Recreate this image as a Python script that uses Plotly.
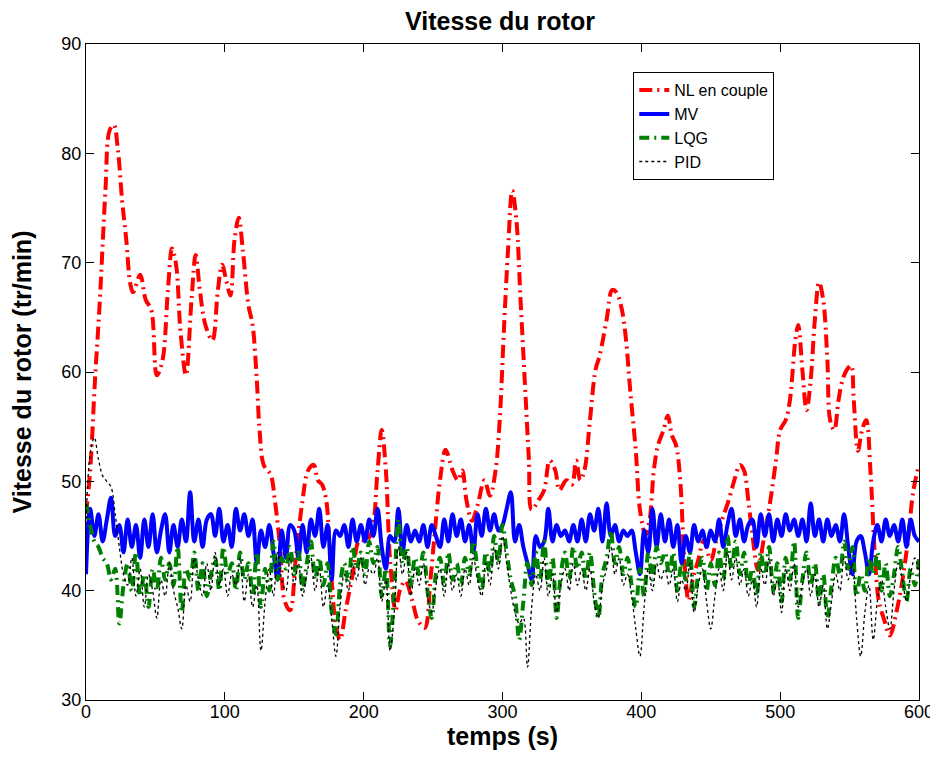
import plotly.graph_objects as go

# NL en couple: smooth-ish trace, sampled at irregular times
NL_T = [0, 3, 6.5, 10, 14, 17, 20, 23, 26, 29, 32, 34, 39, 43, 47, 51, 55, 59, 62, 65,
        68, 72, 76, 79, 82, 86, 91, 95, 98, 101, 104, 107, 110, 113, 117, 120, 123, 125, 128, 133,
        136, 140, 143, 147, 151, 156, 160, 164, 167, 170, 173, 176, 180, 183, 187, 192, 197, 202, 206, 210,
        213, 216, 219, 223, 226, 230, 235, 239, 244, 248, 252, 255, 259, 264, 268, 271, 274, 278, 282, 287,
        291, 295, 298, 301, 304, 307, 310, 313, 316, 319, 321, 326, 330, 334, 338, 341, 346, 350, 353, 356,
        359, 363, 367, 370, 375, 379, 382, 386, 389, 392, 396, 399, 403, 406, 409, 412, 416, 419, 422, 425,
        428, 431, 434, 437, 441, 445, 450, 454, 458, 463, 467, 471, 474, 477, 480, 484, 488, 493, 497, 500,
        504, 507, 511, 513, 516, 519, 522, 525, 528, 531, 534, 536, 539, 542, 545, 548, 551, 553, 556, 559,
        562, 565, 568, 571, 575, 579, 584, 588, 592, 596, 600]
NL_V = [47, 51, 59.3, 66.6, 76.6, 82.1, 82.6, 80.3, 75.7, 72.1, 68, 67.3, 68.9, 66.6, 65.7, 59.7, 61, 67.5, 71.3, 69.7,
        63.8, 59.7, 66.6, 70.7, 67.5, 64.3, 62.9, 67.5, 69.8, 68.4, 67, 72.1, 74.1, 71.1, 66.1, 64.3, 59.3, 54.7, 51.5, 50.6,
        48.3, 43.7, 39.1, 38.2, 42.8, 48.3, 51, 51.5, 50.1, 49.7, 48.3, 42.8, 36.8, 35.5, 38.2, 41.4, 44.6, 44.6, 45.5, 51,
        54.7, 51, 42.8, 38.2, 40, 40.9, 39.1, 37.3, 36.6, 40.9, 46.4, 50.1, 52.9, 51, 50.1, 51, 48.3, 46.4, 47.8, 50.1,
        48.7, 51, 55.6, 63.8, 71.2, 76.6, 73.9, 66.6, 59.3, 52, 47.4, 48.3, 49.2, 51.9, 51, 49.2, 50.1, 49.7, 51.9, 50.1,
        51, 55.6, 60.2, 61.5, 64.8, 67.5, 67.3, 65.7, 62.9, 58.3, 52.8, 47.4, 45.1, 46.5, 51, 53.3, 54.7, 56, 54.2, 53.3,
        50.1, 42.8, 39.1, 41, 42.8, 44.6, 42.8, 44.6, 46.4, 48.3, 50.1, 51.5, 51, 48.3, 45.1, 41.9, 44.6, 48.3, 51.9, 54.7,
        55.6, 57.4, 63, 64.3, 60.2, 56.5, 59.3, 64.8, 68.2, 66.6, 61.1, 55.6, 54.7, 57.4, 59.3, 60.2, 60.6, 57.4, 52.8, 54.7,
        55.6, 51, 43.7, 39.1, 37.3, 35.9, 38.2, 40.9, 44.6, 49.2, 51.5]

# MV, LQG, PID: sampled every 3 s
T = [0, 3, 6, 9, 12, 15, 18, 21, 24, 27, 30, 33, 36, 39, 42, 45, 48, 51, 54, 57,
     60, 63, 66, 69, 72, 75, 78, 81, 84, 87, 90, 93, 96, 99, 102, 105, 108, 111, 114, 117,
     120, 123, 126, 129, 132, 135, 138, 141, 144, 147, 150, 153, 156, 159, 162, 165, 168, 171, 174, 177,
     180, 183, 186, 189, 192, 195, 198, 201, 204, 207, 210, 213, 216, 219, 222, 225, 228, 231, 234, 237,
     240, 243, 246, 249, 252, 255, 258, 261, 264, 267, 270, 273, 276, 279, 282, 285, 288, 291, 294, 297,
     300, 303, 306, 309, 312, 315, 318, 321, 324, 327, 330, 333, 336, 339, 342, 345, 348, 351, 354, 357,
     360, 363, 366, 369, 372, 375, 378, 381, 384, 387, 390, 393, 396, 399, 402, 405, 408, 411, 414, 417,
     420, 423, 426, 429, 432, 435, 438, 441, 444, 447, 450, 453, 456, 459, 462, 465, 468, 471, 474, 477,
     480, 483, 486, 489, 492, 495, 498, 501, 504, 507, 510, 513, 516, 519, 522, 525, 528, 531, 534, 537,
     540, 543, 546, 549, 552, 555, 558, 561, 564, 567, 570, 573, 576, 579, 582, 585, 588, 591, 594, 597, 600]

MV = [41.5, 47.5, 45.0, 47.0, 44.5, 46.5, 48.5, 45.0, 46.0, 43.5,
      46.5, 44.0, 46.0, 43.0, 46.5, 44.0, 47.0, 43.5, 45.5, 47.0,
      43.5, 46.0, 44.0, 46.5, 44.5, 49.0, 44.5, 46.5, 44.0, 46.5,
      47.0, 45.0, 47.5, 44.5, 46.0, 44.0, 47.5, 45.5, 47.0, 45.0,
      46.5, 42.5, 45.5, 44.0, 46.0, 43.5, 41.0, 45.5, 43.0, 46.0,
      45.5, 43.0, 46.0, 43.5, 46.5, 45.0, 47.5, 44.0, 46.0, 41.0,
      45.5, 45.0, 46.0, 44.0, 46.5, 44.5, 46.0, 44.5, 46.5, 45.0,
      47.5, 44.0, 42.0, 45.0, 44.5, 47.5, 43.5, 46.0, 44.5, 45.5,
      44.5, 46.0, 44.0, 46.0, 45.0, 44.0, 46.5, 44.5, 47.0, 45.0,
      46.5, 44.5, 46.0, 43.5, 47.0, 45.0, 47.5, 45.5, 47.0, 45.5,
      46.0, 47.5, 49.0, 44.5, 46.0, 44.0, 42.5, 41.0, 45.0, 44.0,
      44.5, 47.5, 44.5, 46.0, 45.0, 45.5, 44.5, 46.0, 44.5, 46.5,
      44.5, 47.0, 45.5, 47.5, 44.5, 48.0, 45.0, 46.0, 44.5, 45.5,
      45.0, 45.5, 43.5, 41.5, 45.5, 43.5, 47.5, 44.0, 47.0, 44.5,
      46.5, 44.0, 46.0, 42.5, 45.0, 43.5, 46.0, 44.5, 45.5, 44.0,
      45.5, 44.5, 46.5, 44.0, 46.0, 47.5, 45.0, 46.5, 44.5, 46.0,
      46.5, 44.0, 47.0, 45.0, 47.0, 44.5, 46.5, 45.0, 47.0, 45.5,
      46.5, 45.0, 46.5, 44.5, 48.0, 45.0, 46.5, 44.5, 46.5, 45.0,
      46.0, 44.5, 47.0, 44.0, 41.5, 44.5, 45.0, 43.5, 41.5, 44.5,
      46.0, 44.5, 46.5, 45.0, 46.0, 44.5, 46.5, 44.0, 46.5, 45.0, 44.5]

LQG = [48.0, 46.0, 44.5, 44.0, 43.0, 42.5, 41.0, 42.0, 37.0, 40.5,
       42.5, 40.0, 43.5, 39.5, 41.5, 38.5, 42.0, 40.0, 43.0, 41.0,
       42.5, 40.5, 44.0, 38.0, 42.0, 41.0, 43.5, 40.0, 42.5, 39.5,
       41.5, 43.0, 40.0, 44.0, 41.5, 42.5, 40.0, 43.5, 41.0, 42.5,
       39.5, 43.5, 38.5, 42.0, 40.0, 44.5, 41.0, 43.0, 42.0, 44.0,
       41.5, 43.5, 40.0, 42.5, 44.5, 41.0, 43.0, 40.5, 42.5, 38.0,
       36.0, 40.5, 42.5, 41.0, 44.0, 42.0, 43.5, 41.5, 44.5, 42.5,
       44.0, 39.5, 42.0, 35.0, 40.0, 46.5, 42.5, 44.0, 40.5, 43.0,
       41.5, 43.5, 40.0, 37.5, 41.5, 43.0, 40.5, 43.5, 41.0, 42.5,
       40.5, 43.0, 41.5, 44.5, 42.0, 40.0, 43.5, 41.5, 45.0, 42.5,
       46.0, 43.5, 41.0, 39.5, 35.5, 39.0, 42.5, 40.5, 43.5, 41.0,
       44.5, 40.5, 43.0, 37.5, 41.5, 43.5, 41.0, 44.0, 42.0, 43.5,
       41.0, 43.5, 40.0, 37.5, 41.5, 43.0, 45.5, 42.5, 44.0, 41.5,
       43.0, 40.5, 38.5, 42.0, 39.5, 43.5, 41.0, 44.0, 42.5, 43.5,
       41.5, 43.5, 40.0, 42.5, 41.0, 43.5, 38.5, 41.5, 43.0, 40.0,
       42.5, 40.5, 43.5, 41.0, 45.0, 42.0, 44.5, 41.5, 43.5, 40.5,
       42.0, 39.5, 43.5, 41.5, 44.0, 40.0, 42.5, 39.0, 43.0, 41.0,
       44.5, 37.5, 41.0, 43.5, 40.5, 42.5, 39.0, 41.5, 37.5, 40.5,
       43.0, 41.5, 44.5, 42.0, 44.0, 39.5, 41.5, 40.0, 43.0, 41.5,
       43.5, 40.0, 42.5, 39.5, 41.5, 44.0, 41.5, 39.0, 42.0, 40.5, 43.0]

PID = [46.0, 52.5, 54.0, 52.0, 50.5, 50.0, 49.5, 47.0, 44.0, 41.5,
       40.5, 43.0, 39.5, 42.0, 38.5, 41.5, 40.0, 37.5, 41.0, 39.5,
       42.5, 40.0, 38.5, 36.5, 40.5, 39.0, 43.0, 41.0, 39.5, 42.5,
       40.0, 43.5, 40.5, 42.0, 39.5, 41.5, 40.5, 43.0, 39.0, 41.5,
       38.5, 40.5, 34.5, 39.0, 42.0, 39.5, 43.5, 41.0, 40.0, 43.0,
       40.5, 42.5, 39.5, 41.5, 43.0, 40.0, 42.0, 38.5, 40.5, 37.5,
       34.0, 38.5, 41.5, 40.0, 42.5, 41.0, 43.0, 40.5, 42.0, 41.5,
       43.0, 39.0, 41.0, 34.5, 38.0, 44.0, 41.5, 43.5, 39.5, 42.0,
       40.5, 42.5, 39.5, 38.0, 40.5, 42.0, 39.5, 42.5, 40.0, 41.5,
       39.5, 42.0, 40.5, 43.0, 41.0, 39.5, 42.5, 40.5, 44.0, 42.0,
       45.0, 42.5, 40.0, 38.0, 37.0, 37.5, 33.0, 38.5, 41.5, 40.0,
       43.0, 39.5, 41.5, 38.0, 40.5, 42.0, 40.0, 42.5, 40.5, 42.0,
       40.0, 42.0, 39.0, 37.5, 40.5, 42.0, 44.0, 41.5, 43.0, 40.5,
       41.5, 39.5, 36.5, 34.0, 38.5, 42.0, 40.0, 42.5, 41.0, 42.0,
       40.5, 42.0, 39.0, 41.0, 40.0, 42.5, 38.0, 40.5, 42.0, 39.0,
       36.5, 39.5, 42.0, 40.0, 43.5, 41.0, 43.0, 40.5, 42.0, 39.5,
       41.0, 38.5, 42.0, 40.5, 43.0, 39.5, 41.0, 38.0, 42.0, 40.0,
       42.5, 38.5, 40.5, 42.0, 39.5, 41.5, 38.5, 40.5, 36.5, 39.0,
       41.5, 40.0, 43.0, 41.0, 42.5, 37.5, 34.0, 38.0, 40.5, 35.5,
       39.0, 41.0, 38.5, 36.5, 40.0, 42.5, 41.0, 39.0, 41.5, 43.0, 41.5]

FONT = "Liberation Sans, Arial, Helvetica, sans-serif"

fig = go.Figure()
fig.add_trace(go.Scatter(x=NL_T, y=NL_V, name="NL en couple", mode="lines",
                         line=dict(color="#ff0000", width=4, dash="13px,5px,2px,5px", shape="spline")))
fig.add_trace(go.Scatter(x=T, y=MV, name="MV", mode="lines",
                         line=dict(color="#0000ff", width=4, shape="spline")))
fig.add_trace(go.Scatter(x=T, y=LQG, name="LQG", mode="lines",
                         line=dict(color="#008000", width=4, dash="10px,5px,2px,5px", shape="spline")))
fig.add_trace(go.Scatter(x=T, y=PID, name="PID", mode="lines",
                         line=dict(color="#000000", width=1.3, dash="dot", shape="spline")))

axis_common = dict(showgrid=False, zeroline=False, showline=True, linecolor="black",
                   linewidth=1, mirror="ticks", ticks="inside", ticklen=8,
                   tickcolor="black", automargin=False,
                   tickfont=dict(size=18, color="black", family=FONT))

# the page body adds an 8px offset, so the figure is sized to fit the window
fig.update_layout(
    width=930, height=744,
    paper_bgcolor="white", plot_bgcolor="white",
    margin=dict(l=78, r=19, t=36, b=52),
    font=dict(family=FONT, color="black"),
    title=dict(text="<b>Vitesse du rotor</b>", x=0.529, xanchor="center",
               y=0.9825, yanchor="middle", font=dict(size=25)),
    xaxis=dict(range=[0, 600], tickvals=[0, 100, 200, 300, 400, 500, 600],
               title=dict(text="<b>temps (s)</b>", font=dict(size=25), standoff=0),
               ticklabelstandoff=-5,
               **axis_common),
    yaxis=dict(range=[30, 90], tickvals=[30, 40, 50, 60, 70, 80, 90],
               title=dict(text="<b>Vitesse du rotor (tr/min)</b>", font=dict(size=25), standoff=27),
               **axis_common),
    legend=dict(x=0.657, y=0.957, xanchor="left", yanchor="top",
                bgcolor="white", bordercolor="black", borderwidth=1,
                font=dict(size=16, family=FONT), tracegroupgap=0,
                itemwidth=30),
    showlegend=True,
)

fig.write_html("out.html")
